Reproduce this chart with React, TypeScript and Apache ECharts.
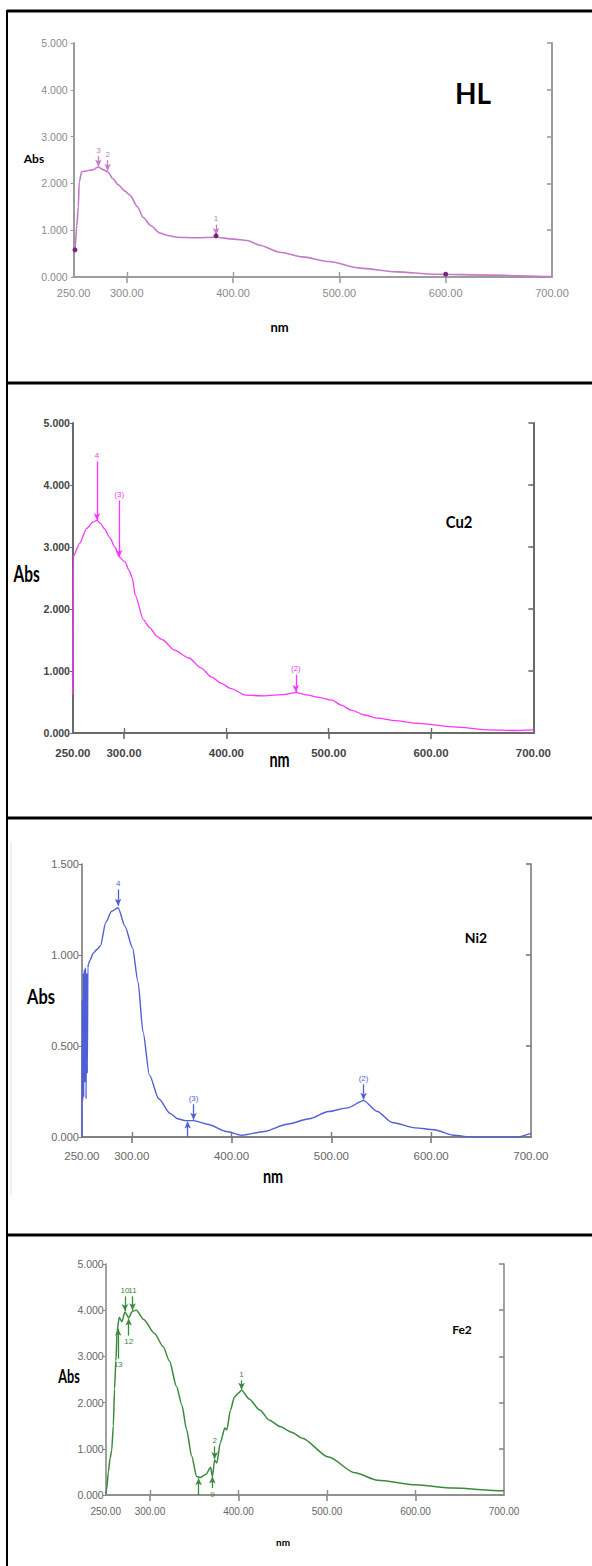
import React, { useEffect, useRef } from "react";
import * as echarts from "echarts";

// ---- Data (wavelength nm, absorbance) ----
const xLabelValues = [250, 300, 400, 500, 600, 700];
const xTickValues = [300, 400, 500, 600];

const hlData = [
  [250.3, 0.52], [251.3, 0.58], [253.0, 1.1], [254.4, 1.5], [255.3, 2.03], [257.6, 2.25], [263, 2.27],
  [268, 2.29], [273.3, 2.35], [277, 2.3], [282, 2.25], [287, 2.1], [292, 1.97], [298, 1.84],
  [303, 1.75], [310, 1.5], [315.6, 1.27], [322.5, 1.1], [331, 0.94], [340, 0.88], [347, 0.85],
  [365, 0.84], [383, 0.85], [401, 0.81], [413, 0.78], [425, 0.68], [444, 0.53], [465, 0.43],
  [490, 0.33], [519, 0.19], [554, 0.11], [589, 0.06], [642, 0.04], [696, 0.01], [700, 0.01],
];
const hlPeaks = [
  // [nm, arrow start, arrow end, label]
  [273.3, 2.58, 2.36, "3"],
  [282, 2.5, 2.27, "2"],
  [384, 1.12, 0.9, "1"],
];
const hlDots = [[251.3, 0.58], [384, 0.88], [600, 0.06]];

const cuData = [
  [250, 0.62], [250.4, 2.85], [256.6, 3.06], [263.5, 3.3], [269.5, 3.4], [273.5, 3.43], [277, 3.38],
  [281, 3.29], [286, 3.15], [291, 3.0], [295.3, 2.84], [300.9, 2.76], [305, 2.62], [308, 2.5],
  [311, 2.22], [318.8, 1.83], [325, 1.7], [332, 1.56], [338, 1.5], [348.7, 1.34], [363.5, 1.21],
  [375, 1.05], [385.7, 0.9], [395, 0.8], [404, 0.72], [418.8, 0.61], [437, 0.6], [455, 0.62],
  [467.8, 0.65], [480, 0.61], [488.8, 0.58], [503.5, 0.53], [512, 0.45], [522, 0.37], [535, 0.29],
  [547.8, 0.24], [565, 0.2], [584.7, 0.16], [621.5, 0.1], [658, 0.05], [680, 0.04], [700, 0.05],
];
const cuPeaks = [
  [273.5, 4.38, 3.43, "4"],
  [295.3, 3.75, 2.84, "(3)"],
  [467.8, 0.94, 0.66, "(2)"],
];

const niData = [
  [250, 0.0], [250.3, 0.75], [250.8, 0.2], [251.3, 0.9], [251.8, 0.22], [252.4, 0.92], [253, 0.3],
  [253.6, 0.93], [254.2, 0.21], [254.8, 0.9], [255.4, 0.35], [256, 0.93], [256.6, 0.95],
  [258, 0.97], [261.4, 1.01], [265, 1.03], [268.5, 1.05], [274, 1.18], [279.8, 1.24], [286.3, 1.26],
  [293, 1.16], [300.7, 1.04], [306.3, 0.85], [311.2, 0.58], [317.7, 0.34], [327, 0.21],
  [338.4, 0.13], [346, 0.1], [354, 0.09], [361.9, 0.09], [376, 0.07], [395, 0.03], [410, 0.01],
  [432.8, 0.03], [455.5, 0.07], [478, 0.1], [497, 0.14], [516, 0.16], [532.3, 0.2], [546, 0.14],
  [561, 0.08], [584, 0.05], [603, 0.04], [622, 0.01], [641, 0.0], [686, 0.0], [700, 0.02],
];
const niPeaks = [
  [286.3, 1.36, 1.27, "4"],
  [361.9, 0.18, 0.095, "(3)"],
  [532.3, 0.29, 0.205, "(2)"],
];
const niValleys = [[356, 0.0, 0.085, ""]];

const feData = [
  [250, 0.02], [251, 0.11], [253, 0.5], [255, 0.8], [256.8, 0.97], [258.6, 1.5], [260, 2.3],
  [261.5, 2.9], [263, 3.57], [265.3, 3.85], [268.3, 3.75], [271.7, 3.96], [276, 3.84],
  [280.3, 3.98], [284.5, 4.0], [293, 3.8], [305, 3.5], [315, 3.21], [322, 2.9], [330, 2.35],
  [336, 1.95], [341.5, 1.41], [347, 0.85], [352.8, 0.4], [357, 0.38], [363.4, 0.45], [368.5, 0.6],
  [370.5, 0.4], [373.1, 0.76], [375.5, 0.69], [379.5, 1.13], [384.6, 1.45], [386.8, 1.41],
  [391, 1.84], [395.4, 2.12], [399.6, 2.2], [403.5, 2.27], [412, 2.08], [424, 1.84], [435, 1.62],
  [447, 1.48], [460, 1.36], [472, 1.23], [501.8, 0.82], [531.6, 0.48], [557.2, 0.32],
  [599.9, 0.22], [642.5, 0.15], [697.8, 0.09], [700, 0.09],
];
const fePeaks = [
  [271.7, 4.3, 3.98, "10"],
  [280.3, 4.3, 4.0, "11"],
  [373.1, 1.05, 0.78, "2"],
  [403.5, 2.48, 2.28, "1"],
];
const feValleys = [
  [276, 3.45, 3.82, "12"],
  [264, 2.95, 3.6, "13"],
  [370.5, 0.15, 0.4, "9"],
  [355, 0.0, 0.36, ""],
];

type Panel = {
  grid: { left: number; top: number; width: number; height: number };
  yMax: number;
  yStep: number;
  color: string;
  lineWidth: number;
  data: number[][];
  marks: any[][];
  axisColor: string;
  axisWidth: number;
  labelColor: string;
  labelWeight: string;
  xFont: number;
  yFont: number;
  xMargin: number;
  yMargin: number;
  dots?: number[][];
};

const panels: Panel[] = [
  {
    grid: { left: 73.6, top: 43, width: 478.4, height: 234 },
    yMax: 5, yStep: 1, color: "#c57ac7", lineWidth: 1.6, data: hlData,
    marks: hlPeaks, axisColor: "#9c9c9c", axisWidth: 2, labelColor: "#8a8a8a",
    labelWeight: "normal", xFont: 11, yFont: 10.5, xMargin: 10, yMargin: 6, dots: hlDots,
  },
  {
    grid: { left: 72.9, top: 423, width: 460.5, height: 310 },
    yMax: 5, yStep: 1, color: "#ff33ff", lineWidth: 1.3, data: cuData,
    marks: cuPeaks, axisColor: "#6a6a6a", axisWidth: 2, labelColor: "#444",
    labelWeight: "bold", xFont: 11.5, yFont: 10.5, xMargin: 14, yMargin: 3,
  },
  {
    grid: { left: 81.9, top: 864, width: 449, height: 273 },
    yMax: 1.5, yStep: 0.5, color: "#4f5fd6", lineWidth: 1.4, data: niData,
    marks: niPeaks.concat(niValleys), axisColor: "#7a7a7a", axisWidth: 1.6, labelColor: "#666",
    labelWeight: "normal", xFont: 11.5, yFont: 11, xMargin: 13, yMargin: 3,
  },
  {
    grid: { left: 105.7, top: 1264, width: 398.3, height: 231 },
    yMax: 5, yStep: 1, color: "#3a8a3e", lineWidth: 1.5, data: feData,
    marks: fePeaks.concat(feValleys), axisColor: "#8a8a8a", axisWidth: 1.6, labelColor: "#666",
    labelWeight: "normal", xFont: 10, yFont: 10.5, xMargin: 11, yMargin: 2,
  },
];

const texts = [
  // [text, x, y, size, scaleX]
  ["Abs", 34, 158, 12, 1.0],
  ["nm", 279.5, 327, 13, 1.0],
  ["HL", 473, 93, 28, 1.0],
  ["Abs", 26.6, 573, 23, 0.67],
  ["nm", 279.5, 760, 20, 0.72],
  ["Cu2", 459, 521, 17, 0.87],
  ["Abs", 41, 996, 21, 0.78],
  ["nm", 273, 1176, 18, 0.8],
  ["Ni2", 476, 937, 14, 1.0],
  ["Abs", 69, 1376, 18, 0.7],
  ["nm", 283, 1542, 10, 1.0],
  ["Fe2", 462, 1329, 12, 1.0],
];

function buildOption() {
  const grid: any[] = [];
  const xAxis: any[] = [];
  const yAxis: any[] = [];
  const series: any[] = [];

  panels.forEach((p, i) => {
    grid.push({ ...p.grid, containLabel: false });
    const line = { show: true, lineStyle: { color: p.axisColor, width: p.axisWidth } };
    const labelBase = {
      color: p.labelColor,
      fontFamily: "Liberation Sans, Arial, sans-serif",
      fontWeight: p.labelWeight,
    };
    xAxis.push({
      type: "value", gridIndex: i, min: 250, max: 700, interval: 50, position: "bottom",
      axisLine: line,
      axisTick: { show: true, inside: true, length: 5, customValues: xTickValues, lineStyle: { color: p.axisColor, width: 1.4 } },
      axisLabel: {
        ...labelBase, fontSize: p.xFont, margin: p.xMargin, customValues: xLabelValues,
        formatter: (v: number) => v.toFixed(2),
      },
      splitLine: { show: false },
    });
    xAxis.push({
      type: "value", gridIndex: i, min: 250, max: 700, interval: 50, position: "top",
      axisLine: line,
      axisTick: { show: true, inside: true, length: 6, customValues: xTickValues, lineStyle: { color: p.axisColor, width: 1.6 } },
      axisLabel: { show: false },
      splitLine: { show: false },
    });
    yAxis.push({
      type: "value", gridIndex: i, min: 0, max: p.yMax, interval: p.yStep, position: "left",
      axisLine: line,
      axisTick: { show: true, inside: false, length: 3, lineStyle: { color: p.axisColor, width: 1 } },
      axisLabel: { ...labelBase, fontSize: p.yFont, margin: p.yMargin, formatter: (v: number) => v.toFixed(3) },
      splitLine: { show: false },
    });
    yAxis.push({
      type: "value", gridIndex: i, min: 0, max: p.yMax, interval: p.yStep, position: "right",
      axisLine: line,
      axisTick: { show: true, inside: true, length: 5, lineStyle: { color: p.axisColor, width: 1.6 } },
      axisLabel: { show: false },
      splitLine: { show: false },
    });

    const markData = p.marks.map((m) => [
      {
        name: m[3] as string,
        coord: [m[0], m[1]],
      },
      { coord: [m[0], m[2]] },
    ]);

    series.push({
      type: "line",
      xAxisIndex: i * 2,
      yAxisIndex: i * 2,
      data: p.data,
      showSymbol: false,
      symbol: "none",
      smooth: 0.25,
      smoothMonotone: "x",
      lineStyle: { color: p.color, width: p.lineWidth },
      itemStyle: { color: p.color },
      markLine: {
        silent: true,
        symbol: ["none", "arrow"],
        symbolSize: [5, 7],
        lineStyle: { color: p.color, width: 1.3, type: "solid" },
        label: {
          show: true, position: "start", formatter: "{b}", color: p.color,
          fontSize: 8, distance: 2, fontFamily: "Liberation Sans, Arial, sans-serif",
        },
        data: markData,
      },
      markPoint: p.dots
        ? {
            silent: true,
            symbol: "circle",
            symbolSize: 5,
            itemStyle: { color: "#7b237b" },
            label: { show: false },
            data: p.dots.map((d) => ({ coord: d })),
          }
        : undefined,
    });
  });

  const graphic: any[] = [
    { type: "line", shape: { x1: 7, y1: 11, x2: 592, y2: 11 }, style: { stroke: "#000", lineWidth: 3 } },
    { type: "line", shape: { x1: 7, y1: 383, x2: 592, y2: 383 }, style: { stroke: "#000", lineWidth: 3 } },
    { type: "line", shape: { x1: 7, y1: 818, x2: 592, y2: 818 }, style: { stroke: "#000", lineWidth: 3 } },
    { type: "line", shape: { x1: 7, y1: 1235, x2: 592, y2: 1235 }, style: { stroke: "#000", lineWidth: 3 } },
    { type: "line", shape: { x1: 7, y1: 10, x2: 7, y2: 1566 }, style: { stroke: "#000", lineWidth: 2 } },
    { type: "line", shape: { x1: 11, y1: 842, x2: 11, y2: 1195 }, style: { stroke: "#e2e2e2", lineWidth: 1 } },
  ];
  texts.forEach((t) => {
    graphic.push({
      type: "text",
      x: t[1] as number,
      y: t[2] as number,
      scaleX: t[4] as number,
      style: {
        text: t[0] as string,
        fontSize: t[3] as number,
        fontWeight: "bold",
        fontFamily: "Lato, 'Open Sans', sans-serif",
        fill: "#000",
        align: "center",
        verticalAlign: "middle",
        textAlign: "center",
        textVerticalAlign: "middle",
      },
    });
  });

  return {
    animation: false,
    backgroundColor: "#fff",
    grid,
    xAxis,
    yAxis,
    series,
    graphic,
  };
}

export default function App() {
  const ref = useRef<HTMLDivElement>(null);
  useEffect(() => {
    if (!ref.current) return;
    const chart = echarts.init(ref.current, undefined, { renderer: "svg" });
    chart.setOption(buildOption() as any);
    return () => chart.dispose();
  }, []);
  return (
    <div
      ref={ref}
      style={{ position: "absolute", left: 0, top: 0, width: 592, height: 1566, background: "#fff" }}
    />
  );
}
